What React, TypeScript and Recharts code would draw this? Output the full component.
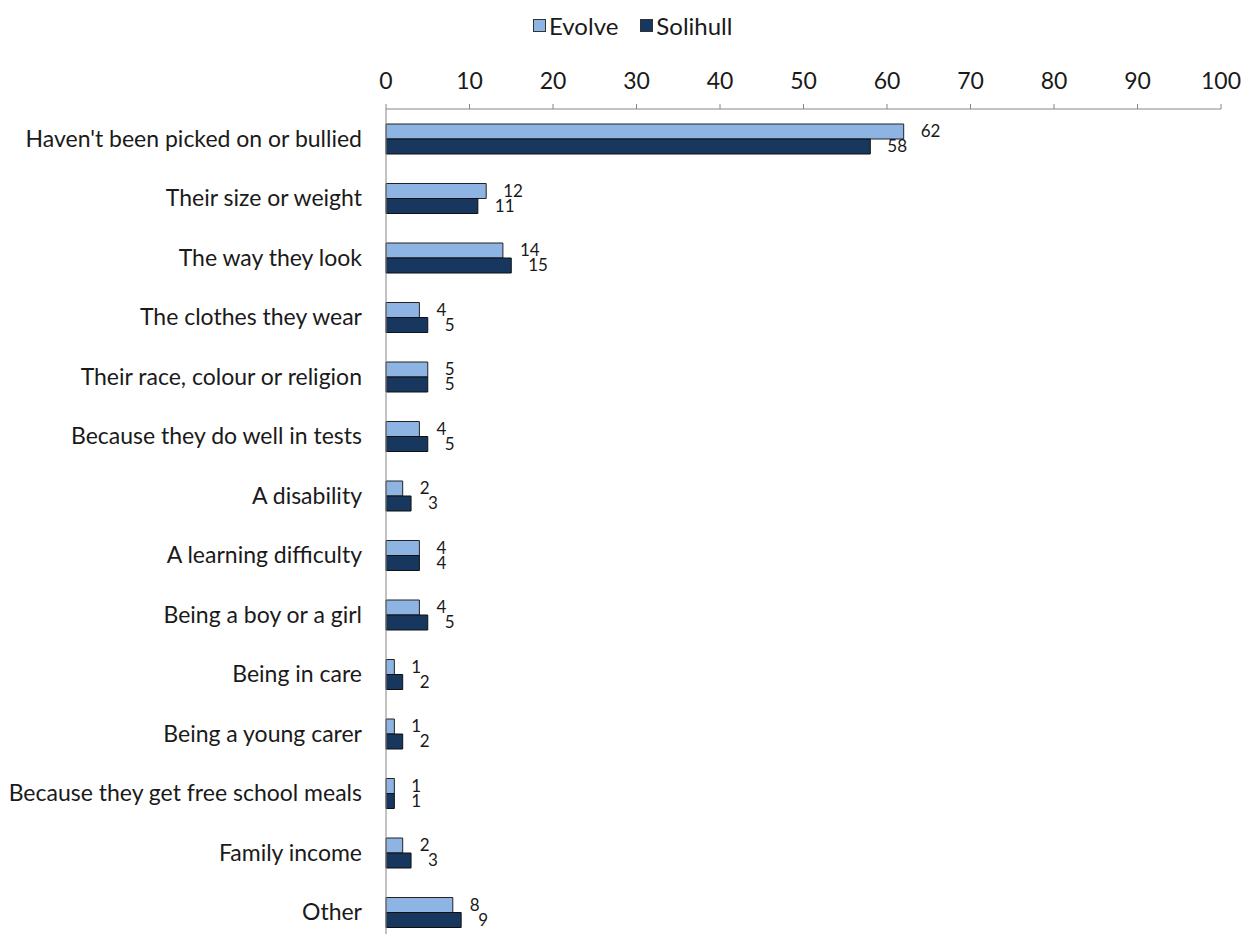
import React from 'react';
import { Bar, BarChart, LabelList, XAxis, YAxis } from 'recharts';

// Reasons young people think others are bullied — Evolve vs Solihull (%).
const EVOLVE_FILL = '#8DB4E2';
const SOLIHULL_FILL = '#17375E';
const AXIS = '#868686';
const INK = '#1a1a1a';
const FONT = 'Lato, "Open Sans", sans-serif';

const reasons = [
  "Haven't been picked on or bullied",
  'Their size or weight',
  'The way they look',
  'The clothes they wear',
  'Their race, colour or religion',
  'Because they do well in tests',
  'A disability',
  'A learning difficulty',
  'Being a boy or a girl',
  'Being in care',
  'Being a young carer',
  'Because they get free school meals',
  'Family income',
  'Other',
];
const evolve = [62, 12, 14, 4, 5, 4, 2, 4, 4, 1, 1, 1, 2, 8];
const solihull = [58, 11, 15, 5, 5, 5, 3, 4, 5, 2, 2, 1, 3, 9];
const xTicks = [0, 10, 20, 30, 40, 50, 60, 70, 80, 90, 100];

const rows = reasons.map((reason, i) => ({ reason, evolve: evolve[i], solihull: solihull[i] }));

const valueLabel = (props: any) => {
  const { x, y, width, height, value } = props;
  return (
    <text
      x={x + width + 17}
      y={y + height / 2 - 1}
      dominantBaseline="central"
      fontSize={17}
      fontFamily={FONT}
      fill={INK}
    >
      {value}
    </text>
  );
};

function LegendKey() {
  const item = (color: string, label: string, gap: number) => (
    <span style={{ display: 'inline-flex', alignItems: 'center', marginRight: gap }}>
      <span
        style={{
          width: 11,
          height: 11,
          background: color,
          border: '1px solid #333',
          marginRight: 3,
        }}
      />
      {label}
    </span>
  );
  return (
    <div
      style={{
        position: 'absolute',
        top: 8,
        left: 533,
        fontFamily: FONT,
        fontSize: 24,
        lineHeight: '30px',
        color: INK,
        whiteSpace: 'nowrap',
      }}
    >
      {item(EVOLVE_FILL, 'Evolve', 22)}
      {item(SOLIHULL_FILL, 'Solihull', 0)}
    </div>
  );
}

export default function App() {
  return (
    <div
      style={{
        position: 'absolute',
        left: 0,
        top: 0,
        width: 1242,
        height: 934,
        overflow: 'hidden',
        background: '#fff',
      }}
    >
      <LegendKey />
      <BarChart
        width={1242}
        height={942}
        data={rows}
        layout="vertical"
        margin={{ top: 79, right: 21, left: 0, bottom: 0 }}
        barGap={0}
        barCategoryGap={14}
      >
        <XAxis
          type="number"
          orientation="top"
          height={30}
          domain={[0, 100]}
          ticks={xTicks}
          interval={0}
          stroke={AXIS}
          tickSize={5}
          tickMargin={15}
          tick={{ fontSize: 23, fill: INK, fontFamily: FONT }}
        />
        <YAxis
          type="category"
          dataKey="reason"
          width={386}
          stroke={AXIS}
          tickLine={false}
          tickMargin={18}
          interval={0}
          tick={{ fontSize: 23, fill: INK, fontFamily: FONT }}
        />
        <Bar dataKey="evolve" name="Evolve" fill={EVOLVE_FILL} stroke="#222" strokeWidth={1} barSize={15} isAnimationActive={false}>
          <LabelList dataKey="evolve" content={valueLabel} />
        </Bar>
        <Bar dataKey="solihull" name="Solihull" fill={SOLIHULL_FILL} stroke="#111" strokeWidth={1} barSize={15} isAnimationActive={false}>
          <LabelList dataKey="solihull" content={valueLabel} />
        </Bar>
      </BarChart>
    </div>
  );
}
